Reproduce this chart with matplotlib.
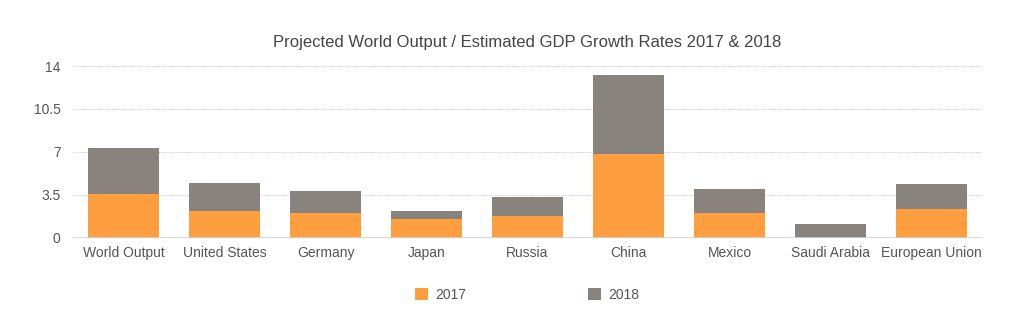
import matplotlib
matplotlib.use("Agg")
import matplotlib.pyplot as plt
from matplotlib.patches import Patch

categories = ["World Output", "United States", "Germany", "Japan", "Russia",
              "China", "Mexico", "Saudi Arabia", "European Union"]
growth_2017 = [3.6, 2.2, 2.0, 1.5, 1.8, 6.8, 2.0, 0.0, 2.3]
growth_2018 = [3.7, 2.3, 1.8, 0.7, 1.5, 6.5, 2.0, 1.1, 2.1]
yticks = [0, 3.5, 7, 10.5, 14]
ytick_labels = ["0", "3.5", "7", "10.5", "14"]
series_names = ["2017", "2018"]

c2017 = "#FE9E3F"
c2018 = "#89837E"

plt.rcParams['font.family'] = ['Liberation Sans', 'DejaVu Sans']

fig = plt.figure(figsize=(10.24, 3.29), dpi=100)
ax = fig.add_axes([73/1024, 1-237.7/329, (982-73)/1024, (237.7-66)/329])

x = list(range(len(categories)))
ax.bar(x, growth_2017, width=0.71, color=c2017, linewidth=0, zorder=3)
ax.bar(x, growth_2018, width=0.71, bottom=growth_2017, color=c2018, linewidth=0, zorder=3)

ax.set_xlim(-0.5, len(categories) - 0.5)
ax.set_ylim(0, 14)
ax.set_yticks(yticks)
ax.set_yticklabels(ytick_labels)
ax.set_xticks(x)
ax.set_xticklabels(categories)

for y in yticks[1:]:
    ax.axhline(y, color="#C4C4C4", linestyle=(0, (1, 1.2)), linewidth=0.7, zorder=1)
ax.axhline(0, color="#D0D0D0", linewidth=1.2, zorder=4)

for s in ax.spines.values():
    s.set_visible(False)
ax.tick_params(axis="both", length=0, labelsize=10, colors="#555555")
ax.tick_params(axis="x", pad=6)
ax.tick_params(axis="y", pad=9)

fig.text(527/1024, 1-42/329, "Projected World Output / Estimated GDP Growth Rates 2017 & 2018",
         ha="center", va="center", fontsize=12, color="#444444")

handles = [Patch(facecolor=c2017, edgecolor="none"), Patch(facecolor=c2018, edgecolor="none")]
fig.legend(handles, series_names, loc="center", bbox_to_anchor=(527/1024, 1-295/329),
           ncol=2, frameon=False, fontsize=10, handlelength=0.95, handleheight=0.95,
           handletextpad=0.5, columnspacing=8.8, labelcolor="#555555")

fig.savefig("out.png", dpi=100)
